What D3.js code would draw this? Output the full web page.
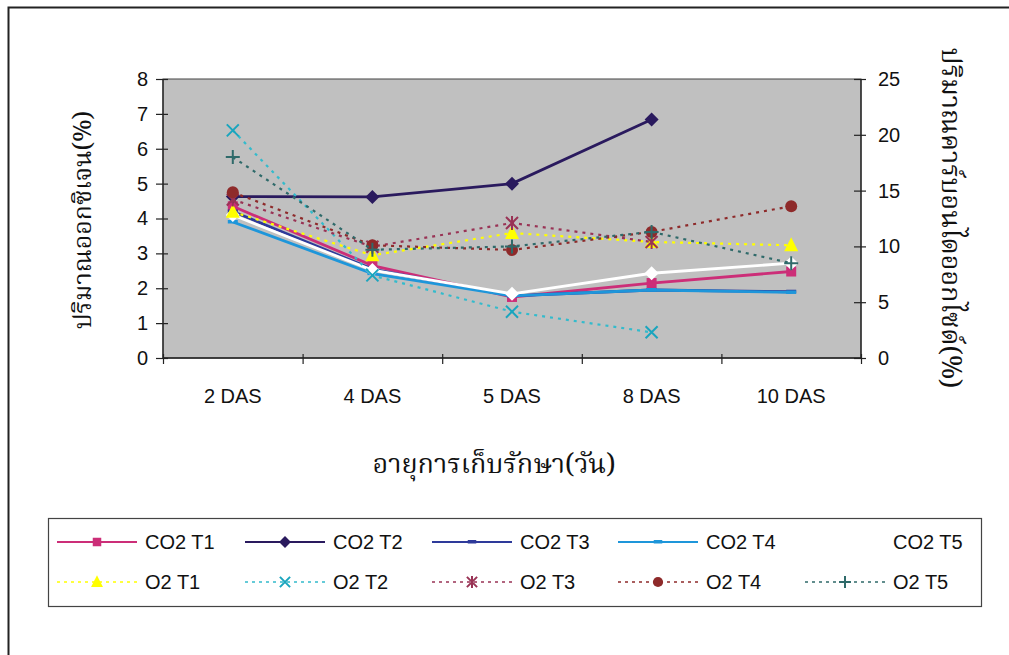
<!DOCTYPE html>
<html><head><meta charset="utf-8">
<script src="https://cdn.jsdelivr.net/npm/d3@7"></script>
<style>
body{margin:0;background:#fff;}
svg{display:block;}
.tk{font-family:Arial,"Liberation Sans",sans-serif;font-size:20px;fill:#111;}
.th{font-family:"Noto Serif Thai","Noto Sans Thai","Tlwg Typo","Loma","Garuda",serif;font-size:25px;fill:#111;}
.lg{font-family:Arial,"Liberation Sans",sans-serif;font-size:20px;fill:#111;}
</style></head>
<body>
<svg id="c" width="1009" height="655"></svg>
<script>
const categories = ["2 DAS","4 DAS","5 DAS","8 DAS","10 DAS"];
const leftTicks = [0,1,2,3,4,5,6,7,8];
const rightTicks = [0,5,10,15,20,25];
const leftTitle = "ปริมาณออกซิเจน(%)";
const rightTitle = "ปริมาณคาร์บอนไดออกไซด์(%)";
const xTitle = "อายุการเก็บรักษา(วัน)";

// CO2 series (primary / left axis)
const co2T1 = [4.35, 2.65, 1.75, 2.15, 2.48];
const co2T2 = [4.63, 4.62, 5.0, 6.84, null];
const co2T3 = [4.2, 2.55, 1.78, 1.95, 1.9];
const co2T4 = [3.9, 2.42, 1.78, 1.95, 1.88];
const co2T5 = [4.1, 2.52, 1.84, 2.43, 2.72];
// O2 series (secondary / right axis)
const o2T1 = [13.1, 9.2, 11.2, 10.4, 10.1];
const o2T2 = [20.4, 7.4, 4.15, 2.3, null];
const o2T3 = [14.2, 9.97, 12.1, 10.4, null];
const o2T4 = [14.85, 10.1, 9.68, 11.3, 13.6];
const o2T5 = [18.0, 9.7, 10.0, 11.3, 8.5];

const series = [
  {name:"CO2 T1", values:co2T1, axis:"L", color:"#CC2E78", dash:null, marker:"square", mcolor:"#CC2E78"},
  {name:"CO2 T2", values:co2T2, axis:"L", color:"#2A1A5E", dash:null, marker:"diamond", mcolor:"#2A1A5E"},
  {name:"CO2 T3", values:co2T3, axis:"L", color:"#2E3A9A", dash:null, marker:"dash", mcolor:"#2E3A9A"},
  {name:"CO2 T4", values:co2T4, axis:"L", color:"#1E96DA", dash:null, marker:"dash", mcolor:"#1E96DA"},
  {name:"CO2 T5", values:co2T5, axis:"L", color:"#FFFFFF", dash:null, marker:"diamond", mcolor:"#FFFFFF"},
  {name:"O2 T1", values:o2T1, axis:"R", color:"#FFFF00", dash:"3,5", marker:"triangle", mcolor:"#FFFF00"},
  {name:"O2 T2", values:o2T2, axis:"R", color:"#33BBCC", dash:"3,5", marker:"x", mcolor:"#1AA5BE"},
  {name:"O2 T3", values:o2T3, axis:"R", color:"#993355", dash:"3,5", marker:"star", mcolor:"#993355"},
  {name:"O2 T4", values:o2T4, axis:"R", color:"#8E2A2A", dash:"3,5", marker:"circle", mcolor:"#8E2A2A"},
  {name:"O2 T5", values:o2T5, axis:"R", color:"#2F6A6A", dash:"3,5", marker:"plus", mcolor:"#2F6A6A"}
];

const svg = d3.select("#c");
const L = 163, R = 861, T = 79, B = 358;

// outer frame
svg.append("rect").attr("x",8.5).attr("y",7.5).attr("width",1010).attr("height",660)
  .attr("fill","#fff").attr("stroke","#222").attr("stroke-width",2);

const x = d3.scaleBand().domain(categories).range([L,R]).padding(0);
const xEdge = d3.scaleLinear().domain([0,categories.length]).range([L,R]);
const yL = d3.scaleLinear().domain([0,8]).range([B,T]);
const yR = d3.scaleLinear().domain([0,25]).range([B,T]);

// plot area
svg.append("rect").attr("x",L).attr("y",T).attr("width",R-L).attr("height",B-T)
  .attr("fill","#C0C0C0").attr("stroke","#444").attr("stroke-width",1);

// left axis
const gL = svg.append("g").attr("transform",`translate(${L},0)`)
  .call(d3.axisLeft(yL).tickValues(leftTicks).tickSize(7).tickPadding(8).tickFormat(d3.format("d")));
gL.selectAll(".tick line").attr("x2",-7).attr("x1",5);
// right axis
const gR = svg.append("g").attr("transform",`translate(${R},0)`)
  .call(d3.axisRight(yR).tickValues(rightTicks).tickSize(7).tickPadding(10).tickFormat(d3.format("d")));
gR.selectAll(".tick line").attr("x1",-7).attr("x2",5);
// bottom axis (tick marks at category boundaries)
const gB = svg.append("g").attr("transform",`translate(0,${B})`)
  .call(d3.axisBottom(xEdge).tickValues(d3.range(categories.length+1)).tickSize(6).tickFormat(""));
gB.selectAll(".tick line").attr("y1",-4).attr("y2",6);
[gL,gR,gB].forEach(g=>{
  g.select(".domain").attr("stroke","#222").attr("stroke-width",1.3);
  g.selectAll(".tick line").attr("stroke","#222").attr("stroke-width",1.2);
  g.selectAll(".tick text").attr("class","tk").attr("font-size",null).attr("font-family",null);
});
gR.select(".domain").attr("d",`M0,${T}V${B}`);
gL.select(".domain").attr("d",`M0,${T}V${B}`);
gB.select(".domain").attr("d",`M${L},0H${R}`);

// category labels
svg.append("g").selectAll("text").data(categories).join("text")
  .attr("class","tk").attr("x",d=>x(d)+x.bandwidth()/2).attr("y",403)
  .attr("text-anchor","middle").text(d=>d);

// titles
svg.append("text").attr("class","th").attr("text-anchor","middle")
  .attr("transform","translate(91,220) rotate(-90)").text(leftTitle);
svg.append("text").attr("class","th").attr("text-anchor","middle").style("font-size","27px")
  .attr("transform","translate(942,218) rotate(90)").text(rightTitle);
svg.append("text").attr("class","th").attr("text-anchor","middle").style("font-size","27px")
  .attr("x",(L+R)/2 - 18).attr("y",473).text(xTitle);

function drawMarker(g, type, cx, cy, color, s){
  s = s || 1;
  if(type==="square"){
    g.append("rect").attr("x",cx-5*s).attr("y",cy-5*s).attr("width",10*s).attr("height",10*s).attr("fill",color);
  } else if(type==="diamond"){
    g.append("path").attr("d",`M${cx},${cy-7*s}L${cx+7*s},${cy}L${cx},${cy+7*s}L${cx-7*s},${cy}Z`).attr("fill",color);
  } else if(type==="dash"){
    g.append("rect").attr("x",cx-5*s).attr("y",cy-2).attr("width",10*s).attr("height",3.5).attr("fill",color);
  } else if(type==="triangle"){
    g.append("path").attr("d",`M${cx},${cy-8*s}L${cx+7*s},${cy+6*s}L${cx-7*s},${cy+6*s}Z`).attr("fill",color);
  } else if(type==="circle"){
    g.append("circle").attr("cx",cx).attr("cy",cy).attr("r",6*s).attr("fill",color);
  } else if(type==="x"){
    g.append("path").attr("d",`M${cx-6*s},${cy-6*s}L${cx+6*s},${cy+6*s}M${cx-6*s},${cy+6*s}L${cx+6*s},${cy-6*s}`)
      .attr("stroke",color).attr("stroke-width",2);
  } else if(type==="plus"){
    g.append("path").attr("d",`M${cx-7*s},${cy}L${cx+7*s},${cy}M${cx},${cy-7*s}L${cx},${cy+7*s}`)
      .attr("stroke",color).attr("stroke-width",2);
  } else if(type==="star"){
    g.append("path").attr("d",`M${cx-6*s},${cy-6*s}L${cx+6*s},${cy+6*s}M${cx-6*s},${cy+6*s}L${cx+6*s},${cy-6*s}M${cx},${cy-7*s}L${cx},${cy+7*s}`)
      .attr("stroke",color).attr("stroke-width",2);
  }
}

// series
const plotG = svg.append("g");
series.forEach(s=>{
  const yS = s.axis==="L" ? yL : yR;
  const pts = s.values.map((v,i)=>({c:categories[i], v}));
  const line = d3.line().defined(d=>d.v!=null)
    .x(d=>x(d.c)+x.bandwidth()/2).y(d=>yS(d.v));
  plotG.append("path").datum(pts).attr("d",line).attr("fill","none")
    .attr("stroke",s.color).attr("stroke-width",s.dash?2.2:2.8)
    .attr("stroke-dasharray",s.dash);
  const mg = plotG.append("g");
  pts.filter(d=>d.v!=null).forEach(d=>drawMarker(mg,s.marker,x(d.c)+x.bandwidth()/2,yS(d.v),s.mcolor,1));
});

// legend
svg.append("rect").attr("x",48.5).attr("y",518.5).attr("width",933).attr("height",88)
  .attr("fill","#fff").attr("stroke","#444").attr("stroke-width",1.2);
const colX = [57,245,432,618,805];
const rowY = [542,582];
series.forEach((s,i)=>{
  const r = Math.floor(i/5), c = i%5;
  const x0 = colX[c], yy = rowY[r];
  const g = svg.append("g");
  g.append("line").attr("x1",x0).attr("x2",x0+80).attr("y1",yy).attr("y2",yy)
    .attr("stroke",s.color).attr("stroke-width",s.dash?1.3:2.2)
    .attr("stroke-dasharray",s.dash?"3,4":null);
  drawMarker(g,s.marker,x0+40,yy,s.mcolor,0.85);
  g.append("text").attr("class","lg").attr("x",x0+88).attr("y",yy+7).text(s.name);
});
</script>
</body></html>
